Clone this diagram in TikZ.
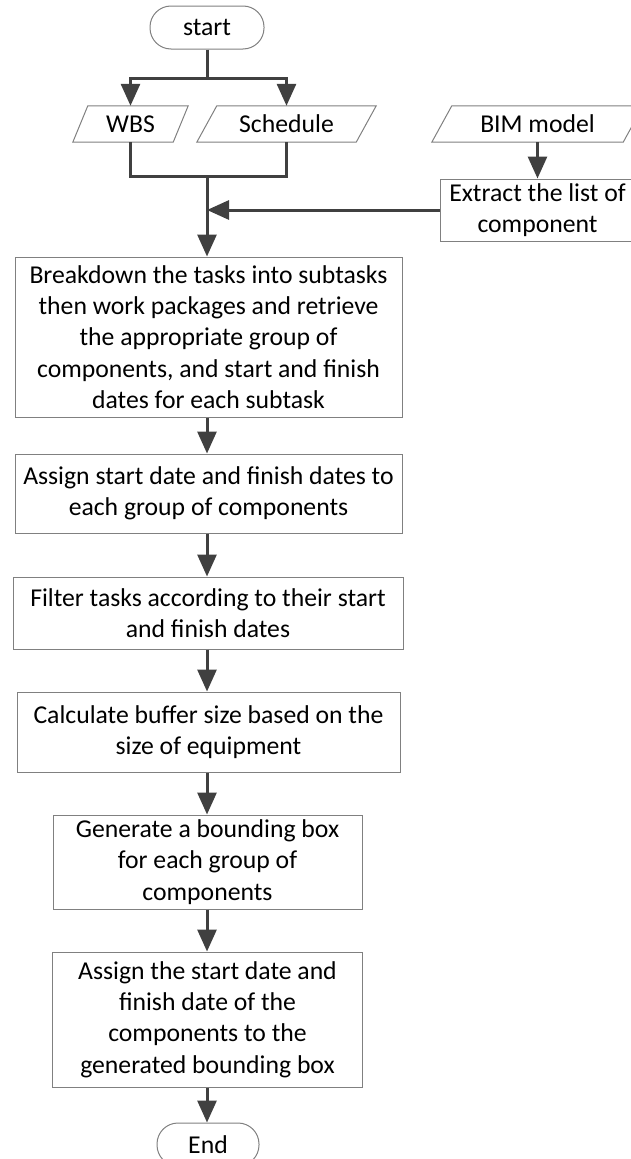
\documentclass[tikz,border=0pt]{standalone}
\usepackage{fontspec}
\setmainfont{Carlito}
\usetikzlibrary{arrows.meta,calc}
\definecolor{boxgray}{RGB}{128,128,128}
\definecolor{linegray}{RGB}{64,64,64}
% slanted outline drawn round a named data node: #1 node, #2 half slant
\newcommand\ioshape[2]{%
  \draw[boxline] ([xshift=-#2]#1.south west) -- ([xshift=#2]#1.north west)
    -- ([xshift=#2]#1.north east) -- ([xshift=-#2]#1.south east) -- cycle;}
\begin{document}
\begin{tikzpicture}[x=1pt,y=-1pt,
  every node/.style={font=\fontsize{25.7}{31.3}\selectfont, align=center, inner sep=0pt},
  boxline/.style={draw=boxgray, line width=1pt},
  procbox/.style={boxline, rectangle},
  term/.style={boxline, rectangle, rounded corners=21pt, minimum height=43},
  datanode/.style={rectangle, minimum height=36},
  flow/.style={draw=linegray, line width=3pt},
  flowarrow/.style={flow, -{Triangle[width=19pt,length=22pt]}}
]
\clip (0,0) rectangle (631,1159);

% start and inputs
\node[term, minimum width=114] (start) at (207,27.5) {start};
\node[datanode, minimum width=100] (wbs) at (130.5,124) {WBS};
\node[datanode, minimum width=159] (sched) at (286.5,124) {Schedule};
\node[datanode, minimum width=191] (bim) at (537.5,124) {BIM model};
\ioshape{wbs}{7.5}
\ioshape{sched}{10}
\ioshape{bim}{10}

\node[procbox, minimum width=195, minimum height=62] (extract) at (537.5,210)
  {Extract the list of\\component};

% processing steps
\node[procbox, minimum width=387, minimum height=160] (brk) at (208.5,337)
  {Breakdown the tasks into subtasks\\then work packages and retrieve\\the appropriate group of\\components, and start and finish\\dates for each subtask};
\node[procbox, minimum width=387, minimum height=79] (asg1) at (208.5,493.5)
  {Assign start date and finish dates to\\each group of components};
\node[procbox, minimum width=390, minimum height=72] (filt) at (208,613)
  {Filter tasks according to their start\\and finish dates};
\node[procbox, minimum width=383, minimum height=80] (calc) at (208.5,732)
  {Calculate buffer size based on the\\size of equipment};
\node[procbox, minimum width=309, minimum height=94] (gen) at (207.5,862)
  {Generate a bounding box\\for each group of\\components};
\node[procbox, minimum width=310, minimum height=135] (asg2) at (207.5,1019.5)
  {Assign the start date and\\finish date of the\\components to the\\generated bounding box};
\node[term, minimum width=102] (end) at (208,1144.5) {End};

% connectors
\coordinate (split) at (207,78);
\coordinate (merge) at (207,176);
\draw[flow] (start.south) -- (split);
\draw[flowarrow] (split) -| (wbs.north);
\draw[flowarrow] (split) -| (sched.north);
\draw[flow] (wbs.south) |- (merge);
\draw[flow] (sched.south) |- (merge);
\draw[flowarrow] (bim.south) -- (extract.north);
\draw[flowarrow] (extract.west) -- (extract.west -| merge);
\draw[flowarrow] (merge) -- (merge |- brk.north);
\draw[flowarrow] (merge |- brk.south) -- (merge |- asg1.north);
\draw[flowarrow] (merge |- asg1.south) -- (merge |- filt.north);
\draw[flowarrow] (merge |- filt.south) -- (merge |- calc.north);
\draw[flowarrow] (merge |- calc.south) -- (merge |- gen.north);
\draw[flowarrow] (merge |- gen.south) -- (merge |- asg2.north);
\draw[flowarrow] (merge |- asg2.south) -- (merge |- end.north);
\end{tikzpicture}
\end{document}
